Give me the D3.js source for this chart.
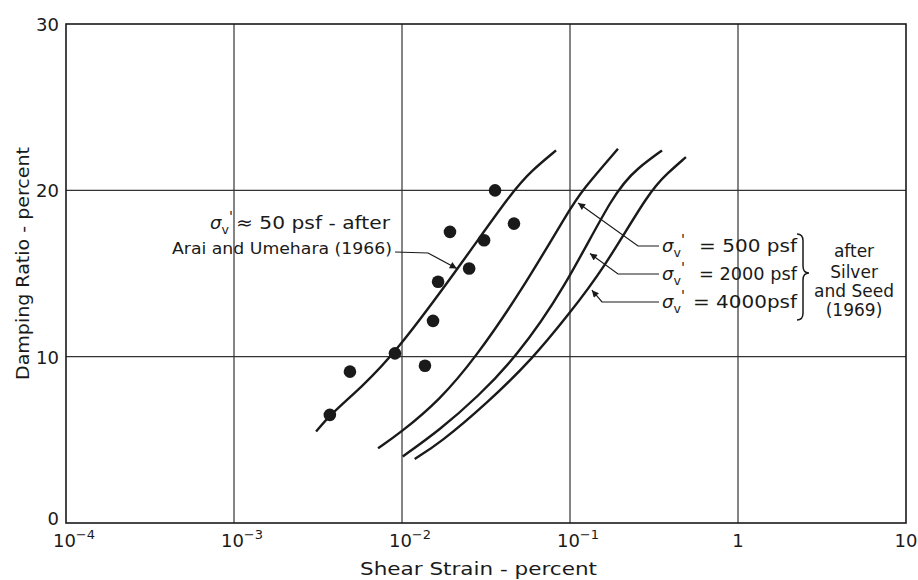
<!DOCTYPE html>
<html>
<head>
<meta charset="utf-8">
<script src="https://cdn.jsdelivr.net/npm/d3@7"></script>
<style>
  body { margin: 0; background: #fff; }
  text { font-family: "DejaVu Sans", "Liberation Sans", sans-serif; fill: #1a1a1a; }
</style>
</head>
<body>
<svg id="chart"></svg>
<script>
// tamaño del lienzo
var width = 918;
var height = 580;
var margin = {top: 24, right: 12, bottom: 57, left: 66};

// ejes
var xTicks = [1e-4, 1e-3, 1e-2, 1e-1, 1, 10];
var xTickExp = ["-4", "-3", "-2", "-1", "", ""];
var xTickBase = ["10", "10", "10", "10", "1", "10"];
var yTicks = [0, 10, 20, 30];

// puntos Arai y Umehara (1966)
var araiStrain  = [0.00372, 0.0049, 0.00908, 0.0137, 0.0153, 0.0164, 0.0193, 0.0251, 0.0308, 0.0358, 0.0464];
var araiDamping = [6.5, 9.1, 10.2, 9.45, 12.15, 14.5, 17.5, 15.3, 17.0, 20.0, 18.0];

// curvas
var c50Strain    = [0.00308, 0.00373, 0.00578, 0.00908, 0.0212, 0.0458, 0.0594, 0.0826];
var c50Damping   = [5.5, 6.5, 8.2, 10.2, 15.2, 20.0, 21.2, 22.4];
var c500Strain   = [0.0072, 0.00973, 0.0168, 0.0272, 0.0518, 0.0986, 0.118, 0.193];
var c500Damping  = [4.5, 5.4, 7.4, 9.9, 14.0, 18.8, 20.0, 22.5];
var c2000Strain  = [0.0101, 0.0168, 0.0283, 0.0471, 0.0908, 0.185, 0.254, 0.353];
var c2000Damping = [4.0, 5.6, 7.6, 9.9, 13.9, 20.0, 21.35, 22.4];
var c4000Strain  = [0.0119, 0.0168, 0.0321, 0.0602, 0.0973, 0.157, 0.299, 0.383, 0.49];
var c4000Damping = [3.85, 4.8, 7.2, 9.9, 12.5, 15.2, 20.0, 21.05, 22.0];

function zip(xs, ys) { return xs.map(function(d, i) { return [d, ys[i]]; }); }

var svg = d3.select("#chart")
  .attr("width", width)
  .attr("height", height)
  .style("background", "#fff");

var x = d3.scaleLog().domain([1e-4, 10]).range([margin.left, width - margin.right]);
var y = d3.scaleLinear().domain([0, 30]).range([height - margin.bottom, margin.top]);

var ink = "#1a1a1a";

// rejilla
svg.append("g").selectAll("line")
  .data(xTicks.slice(1, -1))
  .enter().append("line")
  .attr("x1", function(d) { return x(d); })
  .attr("x2", function(d) { return x(d); })
  .attr("y1", y(0)).attr("y2", y(30))
  .attr("stroke", "#333").attr("stroke-width", 1.2);

svg.append("g").selectAll("line")
  .data(yTicks.slice(1, -1))
  .enter().append("line")
  .attr("x1", x(1e-4)).attr("x2", x(10))
  .attr("y1", function(d) { return y(d); })
  .attr("y2", function(d) { return y(d); })
  .attr("stroke", "#333").attr("stroke-width", 1.2);

// marco
svg.append("rect")
  .attr("x", x(1e-4)).attr("y", y(30))
  .attr("width", x(10) - x(1e-4)).attr("height", y(0) - y(30))
  .attr("fill", "none").attr("stroke", ink).attr("stroke-width", 1.6);

// etiquetas eje y
svg.append("g").selectAll("text")
  .data(yTicks)
  .enter().append("text")
  .attr("x", x(1e-4) - 7)
  .attr("y", function(d) { return y(d) + (d === 0 ? 2 : 7); })
  .attr("text-anchor", "end")
  .attr("font-size", 18)
  .text(function(d) { return d; });

// etiquetas eje x
var xl = svg.append("g").selectAll("text")
  .data(xTicks)
  .enter().append("text")
  .attr("x", function(d, i) { return x(d) + (xTickExp[i] ? 8 : 0); })
  .attr("y", 547)
  .attr("text-anchor", "middle")
  .attr("font-size", 18);
xl.append("tspan").text(function(d, i) { return xTickBase[i]; });
xl.append("tspan")
  .attr("dy", -8).attr("font-size", 13)
  .text(function(d, i) { return xTickExp[i] ? "\u2212" + xTickExp[i].slice(1) : ""; });

// títulos
svg.append("text")
  .attr("x", 360).attr("y", 575)
  .attr("font-size", 18)
  .attr("textLength", 237).attr("lengthAdjust", "spacingAndGlyphs")
  .text("Shear Strain - percent");

svg.append("text")
  .attr("transform", "translate(29,380) rotate(-90)")
  .attr("font-size", 18)
  .attr("textLength", 233).attr("lengthAdjust", "spacingAndGlyphs")
  .text("Damping Ratio - percent");

// curvas
var line = d3.line()
  .x(function(d) { return x(d[0]); })
  .y(function(d) { return y(d[1]); })
  .curve(d3.curveBasis);

[zip(c50Strain, c50Damping), zip(c500Strain, c500Damping),
 zip(c2000Strain, c2000Damping), zip(c4000Strain, c4000Damping)].forEach(function(c) {
  svg.append("path")
    .attr("d", line(c))
    .attr("fill", "none")
    .attr("stroke", ink)
    .attr("stroke-width", 2.4);
});

// puntos
svg.append("g").selectAll("circle")
  .data(zip(araiStrain, araiDamping))
  .enter().append("circle")
  .attr("cx", function(d) { return x(d[0]); })
  .attr("cy", function(d) { return y(d[1]); })
  .attr("r", 6.3)
  .attr("fill", ink);

// flechas
svg.append("defs").append("marker")
  .attr("id", "arrow")
  .attr("viewBox", "0 0 10 10")
  .attr("refX", 10).attr("refY", 5)
  .attr("markerWidth", 9).attr("markerHeight", 7)
  .attr("markerUnits", "userSpaceOnUse")
  .attr("orient", "auto")
  .append("path").attr("d", "M0,0 L10,5 L0,10 z").attr("fill", ink);

function leader(pts, tip) {
  var p = pts.concat([[x(tip[0]), y(tip[1])]]);
  svg.append("path")
    .attr("d", d3.line()(p))
    .attr("fill", "none")
    .attr("stroke", ink)
    .attr("stroke-width", 1.2)
    .attr("marker-end", "url(#arrow)");
}

// σv' seguido de su texto
function sigma(px, py, rest, rx, rlen, size) {
  var t = svg.append("text")
    .attr("x", px).attr("y", py)
    .attr("font-size", size);
  t.append("tspan").attr("font-style", "italic").text("\u03c3");
  t.append("tspan").attr("font-size", size * 0.7).attr("dy", size * 0.3).text("v");
  t.append("tspan").attr("font-size", size * 0.8).attr("dy", -size * 0.75).text("'");
  svg.append("text")
    .attr("x", rx).attr("y", py)
    .attr("font-size", size)
    .attr("textLength", rlen).attr("lengthAdjust", "spacingAndGlyphs")
    .text(rest);
}

// anotación izquierda
sigma(210, 229, "\u2248 50 psf - after", 236, 154, 18);
svg.append("text")
  .attr("x", 172).attr("y", 254)
  .attr("font-size", 16)
  .attr("textLength", 220).attr("lengthAdjust", "spacingAndGlyphs")
  .text("Arai and Umehara (1966)");
leader([[395, 252], [428, 253]], [0.0212, 15.3]);

// anotaciones derecha
sigma(662, 252, "= 500  psf", 699, 98, 18);
sigma(662, 280, "= 2000 psf", 699, 98, 18);
sigma(662, 308, "= 4000psf", 693, 104, 18);
leader([[659, 246], [638, 246]], [0.1117, 19.24]);
leader([[659, 274], [618, 274]], [0.1315, 16.2]);
leader([[659, 302], [602, 302]], [0.135, 14.0]);

// llave
svg.append("path")
  .attr("d", "M797,234 Q803,234 803,241 L803,266 Q803,273 809,273 Q803,273 803,280 L803,313 Q803,320 797,320")
  .attr("fill", "none").attr("stroke", ink).attr("stroke-width", 1.5);

var after = ["after", "Silver", "and Seed", "(1969)"];
svg.append("g").selectAll("text")
  .data(after)
  .enter().append("text")
  .attr("x", 854)
  .attr("y", function(d, i) { return [257, 278, 297, 316][i]; })
  .attr("text-anchor", "middle")
  .attr("font-size", 17)
  .text(function(d) { return d; });
</script>
</body>
</html>
